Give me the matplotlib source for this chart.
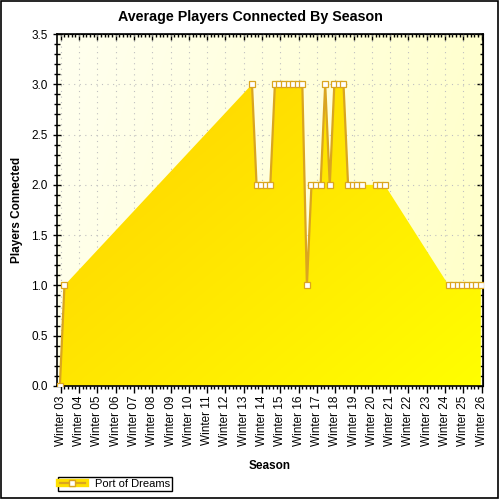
import numpy as np
import matplotlib
matplotlib.use("Agg")
import matplotlib.pyplot as plt
from matplotlib.patches import PathPatch, Rectangle
from matplotlib.lines import Line2D
from matplotlib.ticker import MultipleLocator

plt.rcParams['font.family'] = ['Liberation Sans', 'DejaVu Sans']

# season labels (major ticks)
seasons = ["Winter %02d" % n for n in range(3, 27)]

# data points, x in seasons since Winter 03
season_pos = [-0.05, 0.2,
              10.45, 10.7, 10.95, 11.2, 11.45,
              11.7, 11.95, 12.2, 12.45, 12.7, 12.95, 13.2,
              13.45, 13.7, 13.95, 14.2, 14.45, 14.7,
              14.95, 15.2, 15.45, 15.7, 15.95, 16.2, 16.45,
              17.2, 17.45, 17.7,
              21.2, 21.45, 21.7, 21.95, 22.2, 22.45, 22.7, 22.95]
players = [0.0, 1.0,
           3.0, 2.0, 2.0, 2.0, 2.0,
           3.0, 3.0, 3.0, 3.0, 3.0, 3.0, 3.0,
           1.0, 2.0, 2.0, 2.0, 3.0, 2.0,
           3.0, 3.0, 3.0, 2.0, 2.0, 2.0, 2.0,
           2.0, 2.0, 2.0,
           1.0, 1.0, 1.0, 1.0, 1.0, 1.0, 1.0, 1.0]
# where the line is drawn (runs of consecutive points)
segments = [(0, 2), (2, 27), (27, 30), (30, 38)]

x = np.array(season_pos)
y = np.array(players)
xmin, xmax = -0.19, 23.09
ymin, ymax = 0.0, 3.5

fig = plt.figure(figsize=(5, 5), dpi=100)
ax = fig.add_axes([57.3 / 500, 1 - 386 / 500, (483.3 - 57.3) / 500, (386 - 34) / 500])
ax.set_xlim(xmin, xmax)
ax.set_ylim(ymin, ymax)

# background gradient
u, v = np.meshgrid(np.linspace(0, 1, 200), np.linspace(0, 1, 200))
t = np.clip(0.8 * u + 0.2 * v, 0, 1)
bg = np.zeros((200, 200, 3))
bg[..., 0] = 1.0
bg[..., 1] = 1.0
bg[..., 2] = 0.94 - 0.16 * t
ax.imshow(bg, extent=[xmin, xmax, ymin, ymax], aspect='auto', origin='upper', zorder=0)

ax.grid(True, color='#c0c0c0', linestyle=(0, (1, 4)), linewidth=0.8, zorder=1)

# area with gradient fill
poly = ax.fill_between(x, y, 0, facecolor='none', edgecolor='none')
patch = PathPatch(poly.get_paths()[0], transform=ax.transData, facecolor='none', edgecolor='none')
ax.add_patch(patch)
tg = np.clip((u + v) / 2, 0, 1)
fill = np.zeros((200, 200, 3))
fill[..., 0] = 1.0
fill[..., 1] = (205 + 50 * tg) / 255
fill[..., 2] = 0.0
im = ax.imshow(fill, extent=[xmin, xmax, ymin, ymax], aspect='auto', origin='upper', zorder=2)
im.set_clip_path(patch)

for a, b in segments:
    ax.plot(x[a:b], y[a:b], color='#daa520', linewidth=1.6, zorder=3,
            marker='s', markersize=4, markerfacecolor='white',
            markeredgecolor='#daa520', markeredgewidth=0.9)

ax.set_xticks(range(len(seasons)))
ax.set_xticklabels(seasons, rotation=90, fontsize=8.5)
ax.xaxis.set_minor_locator(MultipleLocator(0.2))
ax.yaxis.set_major_locator(MultipleLocator(0.5))
ax.yaxis.set_minor_locator(MultipleLocator(0.1))
ax.set_yticklabels(["%.1f" % v for v in ax.get_yticks()], fontsize=8.5)
ax.tick_params(axis='x', which='major', direction='out', length=5, width=1, pad=2)
ax.tick_params(axis='x', which='minor', direction='out', length=2.5, width=1)
ax.tick_params(axis='y', which='major', direction='inout', length=6, width=1, pad=4)
ax.tick_params(axis='y', which='minor', direction='inout', length=4, width=1)
for s in ax.spines.values():
    s.set_linewidth(1.2)

top = ax.secondary_xaxis('top')
top.set_xticks(range(len(seasons)))
top.xaxis.set_minor_locator(MultipleLocator(0.2))
top.tick_params(which='major', direction='in', length=4, width=1, labeltop=False)
top.tick_params(which='minor', direction='in', length=2.5, width=1)
right = ax.secondary_yaxis('right')
right.yaxis.set_major_locator(MultipleLocator(0.5))
right.yaxis.set_minor_locator(MultipleLocator(0.1))
right.tick_params(which='major', direction='in', length=4, width=1, labelright=False)
right.tick_params(which='minor', direction='in', length=2.5, width=1)

fig.text(0.5, 1 - 17 / 500, "Average Players Connected By Season", ha='center', va='center',
         fontsize=10.3, fontweight='bold')
fig.text(17 / 500, 1 - 210 / 500, "Players Connected", ha='center', va='center',
         rotation=90, fontsize=8.5, fontweight='bold')
fig.text(270 / 500, 1 - 466 / 500, "Season", ha='center', va='center',
         fontsize=8.5, fontweight='bold')

h = (Line2D([], [], color='#ffe000', linewidth=6),
     Line2D([], [], color='#daa520', linewidth=1.6, marker='s', markersize=5,
            markerfacecolor='white', markeredgecolor='#daa520'))
leg = fig.legend([h], ["Port of Dreams"], loc='upper left',
                 bbox_to_anchor=(58 / 500, 1 - 477 / 500), fontsize=8,
                 fancybox=False, framealpha=1, edgecolor='black',
                 borderpad=0.2, handlelength=2.2, handletextpad=0.9, borderaxespad=0)
leg.get_frame().set_linewidth(1)

fig.patches.append(Rectangle((0.5 / 500, 1 - 497.5 / 500), 497 / 500, 497 / 500,
                             transform=fig.transFigure, fill=False, edgecolor='black',
                             linewidth=1.2))

fig.savefig("out.png", dpi=100)
